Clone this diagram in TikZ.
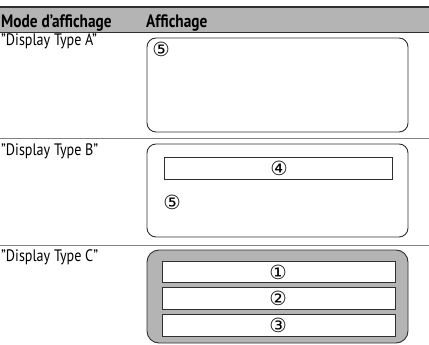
\documentclass[tikz,border=0pt]{standalone}
\usepackage{fontspec}
\setmainfont{PT Sans}[FakeStretch=0.85]
\newfontfamily\circfont{DejaVu Sans}
\definecolor{hdrgray}{HTML}{B4B4B4}
\definecolor{sepgray}{HTML}{808080}
\definecolor{linec}{HTML}{303030}
\begin{document}
\begin{tikzpicture}[x=1pt,y=-1pt,
  lbl/.style={anchor=base west,inner sep=0pt,font=\fontsize{16.6}{17}\selectfont},
  hdr/.style={anchor=base west,inner sep=0pt,font=\fontsize{18}{18}\selectfont\bfseries},
  disp/.style={draw=linec,line width=0.9pt,rounded corners=9pt},
  bar/.style={draw=linec,line width=0.9pt,fill=white},
  num/.style={inner sep=0pt,font=\circfont\fontsize{19.5}{20}\selectfont}]
\useasboundingbox (0,0) rectangle (429,345);
% header
\fill[hdrgray] (0,7) rectangle (429,32.5);
\draw[linec,line width=1.6pt] (0,7) -- (429,7);
\draw[linec,line width=0.8pt] (0,32.5) -- (429,32.5);
\node[hdr] (h1) at (1,27.5) {Mode d’affichage};
\node[hdr] (h2) at (146,27.5) {Affichage};
% separators
\draw[sepgray,line width=1pt] (0,139) -- (429,139);
\draw[sepgray,line width=1pt] (0,245) -- (429,245);
% row A
\node[lbl] (la) at (1,45.5) {"Display Type A"};
\draw[disp] (147,38) rectangle (408,132);
\node[num] (a5) at (161,49) {⑤};
% row B
\node[lbl] (lb) at (1,155) {"Display Type B"};
\draw[disp] (147,144) rectangle (408,237);
\draw[bar] (164,157) rectangle (392,179);
\node[num] (b4) at (279,168.5) {④};
\node[num] (b5) at (172,202) {⑤};
% row C
\node[lbl] (lc) at (1,261) {"Display Type C"};
\draw[disp,fill=hdrgray,rounded corners=12pt] (147,250) rectangle (408,343);
\draw[bar] (162,261) rectangle (395,282);
\draw[bar] (162,287) rectangle (395,309);
\draw[bar] (162,314) rectangle (395,336);
\node[num] (c1) at (278,272) {①};
\node[num] (c2) at (278,298.5) {②};
\node[num] (c3) at (278,325.5) {③};
\end{tikzpicture}
\end{document}
